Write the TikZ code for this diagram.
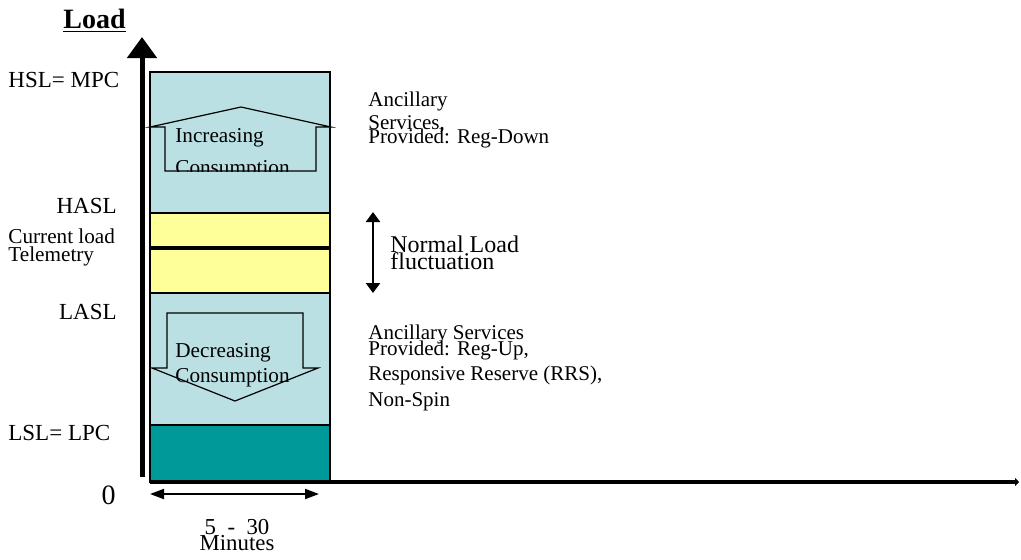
\documentclass[tikz,border=0pt]{standalone}
\usepackage{fontspec}
\setmainfont{Liberation Serif}
\usetikzlibrary{arrows.meta}
\definecolor{paleblue}{RGB}{186,224,227}
\definecolor{paleyellow}{RGB}{255,255,153}
\definecolor{darkteal}{RGB}{0,153,153}
\newcommand\tightlines{\lineskiplimit=-20pt\relax}
\tikzset{
  lbl/.style={inner sep=0pt, font=\fontsize{11.5}{12}\selectfont},
  small/.style={inner sep=0pt, align=left, font=\fontsize{10.5}{10}\selectfont\tightlines},
  band/.style={draw=black, line width=0.6pt},
}
\begin{document}
\begin{tikzpicture}[x=0.5pt, y=-0.5pt]
  \useasboundingbox (0,0) rectangle (1021,559);
  % the column of bands
  \fill [paleblue] (150,72) rectangle (330,213);
  \fill [paleyellow] (150,213) rectangle (330,293);
  \fill [paleblue] (150,293) rectangle (330,425);
  \fill [darkteal] (150,425) rectangle (330,482);
  \draw [band] (150,72) rectangle (330,482);
  \draw [band] (150,213) -- (330,213) (150,293) -- (330,293) (150,425) -- (330,425);
  \draw [line width=2pt] (150,248) -- (330,248);
  % up arrow, text cut at its bottom
  \def\uparr{(150,127) -- (241,107) -- (331,127) -- (316,127) -- (316,171) -- (165,171) -- (165,127) -- cycle}
  \fill [paleblue] \uparr;
  \begin{scope}
    \clip \uparr;
    \node [small, anchor=north west, font=\fontsize{10.6}{16}\selectfont\tightlines] (inc) at (175,128) {Increasing\\Consumption};
  \end{scope}
  \draw [band] \uparr;
  % down arrow
  \def\downarr{(167,313) -- (303,313) -- (303,368) -- (318,368) -- (235,401) -- (152,368) -- (167,368) -- cycle}
  \fill [paleblue] \downarr;
  \draw [band] \downarr;
  \node [small, anchor=north west, font=\fontsize{10.6}{12.5}\selectfont\tightlines] (dec) at (175,343) {Decreasing\\Consumption};
  % axes
  \coordinate (orig) at (142,477);
  \coordinate (ytop) at (142,37);
  \coordinate (xleft) at (150,482);
  \coordinate (xright) at (1019,482);
  \draw [line width=2.5pt, -{Triangle[width=14.5pt,length=10.5pt]}] (orig) -- (ytop);
  \draw [line width=2pt, -{Triangle[width=4pt,length=2pt]}] (xleft) -- (xright);
  \node [inner sep=0pt, font=\bfseries\fontsize{14}{14}\selectfont, anchor=west] (load) at (63,21) {\underline{Load}};
  % labels on the left
  \node [lbl, anchor=west] (hsl) at (8,80) {HSL= MPC};
  \node [lbl, anchor=east] (hasl) at (117,206) {HASL};
  \node [small, anchor=west, font=\fontsize{10.6}{9}\selectfont\tightlines] (cur) at (8,247) {Current load\\Telemetry};
  \node [lbl, anchor=east] (lasl) at (117,312) {LASL};
  \node [lbl, anchor=west] (lsl) at (8,433) {LSL= LPC};
  \node [inner sep=0pt, font=\fontsize{14}{14}\selectfont, anchor=east] (zero) at (116,495) {0};
  % time span
  \coordinate (tl) at (150,494);
  \coordinate (tr) at (319,494);
  \draw [line width=1pt, {Triangle[width=5pt,length=7pt]}-{Triangle[width=5pt,length=7pt]}] (tl) -- (tr);
  \node [small, align=center, font=\fontsize{11.4}{8}\selectfont\tightlines] (span) at (237,535) {5 \ - \ 30\\Minutes};
  % normal fluctuation
  \coordinate (nt) at (373,212);
  \coordinate (nb) at (373,293);
  \draw [line width=1.2pt, {Triangle[width=7pt,length=5pt]}-{Triangle[width=7pt,length=5pt]}] (nt) -- (nb);
  \node [small, anchor=west, font=\fontsize{12}{8.5}\selectfont\tightlines] (norm) at (390,253) {Normal Load\\fluctuation};
  % ancillary services
  \node [small, anchor=west, font=\fontsize{10.5}{11.5}\selectfont\tightlines] (ancup) at (368,112) {Ancillary\\Services,};
  \node [small, anchor=west] (regdn) at (368,138) {Provided: Reg-Down};
  \node [small, anchor=north west, font=\fontsize{10.5}{7.8}\selectfont\tightlines] (ancdn) at (368,325) {Ancillary Services\\Provided: Reg-Up,};
  \node [small, anchor=north west, font=\fontsize{10.5}{13}\selectfont\tightlines] (rrs) at (368,366) {Responsive Reserve (RRS),\\Non-Spin};
\end{tikzpicture}
\end{document}
